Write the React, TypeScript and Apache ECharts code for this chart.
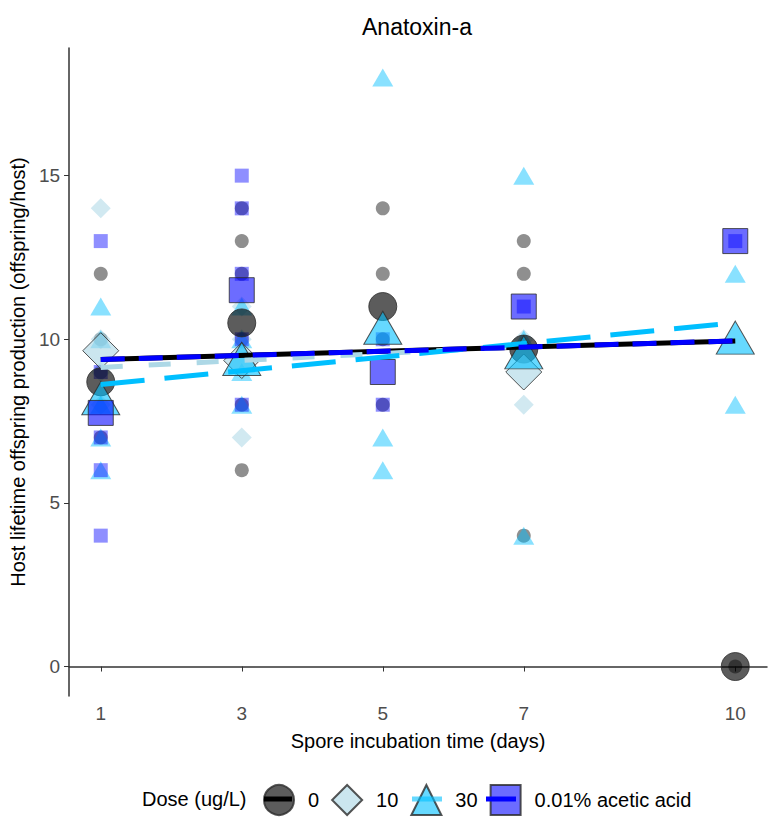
import React, { useEffect, useRef } from "react";
import * as echarts from "echarts";

const days = [1, 3, 5, 7, 10];
const yTicks = [0, 5, 10, 15];
const doseNames = ["0", "10", "30", "0.01% acetic acid"];

// raw observations [day, offspring]
const dose0Points = [[1,12],[1,10],[1,9],[1,7],[3,14],[3,13],[3,12],[3,10],[3,8],[3,6],[5,14],[5,12],[5,10],[5,8],[7,13],[7,12],[7,4],[10,0]];
const dose10Points = [[1,14],[1,10],[1,9],[1,8],[3,11],[3,10],[3,7],[7,10],[7,8]];
const dose30Points = [[1,11],[1,10],[1,8],[1,7],[1,6],[3,11],[3,10],[3,9],[3,8],[5,18],[5,7],[5,6],[7,15],[7,10],[7,4],[10,12],[10,8]];
const aceticPoints = [[1,13],[1,9],[1,7],[1,6],[1,4],[3,15],[3,14],[3,12],[3,10],[3,8],[5,10],[5,8],[7,11],[10,13]];

// group means
const dose0Means = [[1,8.7],[3,10.5],[5,11],[7,9.7],[10,0]];
const dose10Means = [[1,9.65],[3,9.35],[7,9]];
const dose30Means = [[1,8.2],[3,9.4],[5,10.35],[7,9.6],[10,10.05]];
const aceticMeans = [[1,7.75],[3,11.5],[5,9],[7,11],[10,13]];

// fitted linear trends (end points)
const dose0Fit = [[1,9.38],[10,9.95]];
const dose10Fit = [[1,9.14],[7,9.78]];
const dose30Fit = [[1,8.62],[10,10.5]];
const aceticFit = [[1,9.38],[10,9.95]];

const FONT = "'Liberation Sans', Arial, sans-serif";

export default function App() {
  const ref = useRef<HTMLDivElement>(null);
  useEffect(() => {
    document.body.style.margin = "0";
    const chart = echarts.init(ref.current!, undefined, { renderer: "svg" });
    const small = (name: string, data: number[][], symbol: string, size: any, color: string) => ({
      type: "scatter", name: name + " raw", data, symbol, symbolSize: size, silent: true,
      itemStyle: { color, borderWidth: 0 },
    });
    const mean = (name: string, data: number[][], symbol: string, size: any, color: string) => ({
      type: "scatter", name, data, symbol, symbolSize: size, silent: true,
      itemStyle: { color, borderColor: "#2b2b2b", borderWidth: 1 },
    });
    const fit = (name: string, data: number[][], color: string, type: any) => ({
      type: "line", name: name + " fit", data, showSymbol: false, silent: true,
      lineStyle: { color, width: 5, type, cap: "butt" },
    });
    const keyLine = (x1: number, x2: number, color: string) => ({
      type: "line", z: 100, silent: true,
      shape: { x1, y1: 799, x2, y2: 799 },
      style: { stroke: color, lineWidth: 5 },
    });
    chart.setOption({
      animation: false,
      textStyle: { fontFamily: FONT },
      grid: { left: 67, right: 4, top: 48, bottom: 125, containLabel: false },
      xAxis: {
        type: "value", min: 0.55, max: 10.45,
        name: "Spore incubation time (days)", nameLocation: "middle", nameGap: 35,
        nameTextStyle: { fontSize: 20, color: "#000", fontFamily: FONT },
        axisLine: { show: true, lineStyle: { color: "#333", width: 1.5 } },
        axisTick: { show: true, length: 5, customValues: days, lineStyle: { color: "#333" } },
        axisLabel: { customValues: days, fontSize: 19, color: "#4d4d4d", margin: 8, fontFamily: FONT },
        splitLine: { show: false },
      },
      yAxis: {
        type: "value", min: -0.9, max: 18.9,
        name: "Host lifetime offspring production (offspring/host)", nameLocation: "middle", nameGap: 38,
        nameTextStyle: { fontSize: 20, color: "#000", fontFamily: FONT },
        axisLine: { show: true, lineStyle: { color: "#333", width: 1.5 } },
        axisTick: { show: true, length: 5, customValues: yTicks, lineStyle: { color: "#333" } },
        axisLabel: { customValues: yTicks, fontSize: 19, color: "#4d4d4d", margin: 9, fontFamily: FONT },
        splitLine: { show: false },
      },
      legend: {
        data: [
          { name: doseNames[0], icon: "circle" },
          { name: doseNames[1], icon: "diamond" },
          { name: doseNames[2], icon: "triangle" },
          { name: doseNames[3], icon: "rect" },
        ],
        left: 263, top: 784, padding: 0, itemWidth: 30, itemHeight: 30, itemGap: 12,
        selectedMode: false,
        textStyle: { fontSize: 20, color: "#000", fontFamily: FONT, padding: [0, 0, 0, 9] },
      },
      graphic: [
        { type: "text", left: 142, top: 789, style: { text: "Dose (ug/L)", fontSize: 20, fill: "#000", fontFamily: FONT } },
        { type: "text", x: 417, y: 15, style: { text: "Anatoxin-a", fontSize: 23, fill: "#000", fontFamily: FONT, textAlign: "center" } },
        keyLine(264, 292, "#000"),
        keyLine(412, 442, "rgba(0,191,255,0.6)"),
        keyLine(486, 516, "#0000ff"),
      ],
      series: [
        small(doseNames[0], dose0Points, "circle", 14, "rgba(0,0,0,0.55)"),
        small(doseNames[1], dose10Points, "diamond", 20, "rgba(173,216,230,0.7)"),
        small(doseNames[2], dose30Points, "triangle", [21, 18], "rgba(0,191,255,0.58)"),
        small(doseNames[3], aceticPoints, "rect", 14, "rgba(0,0,255,0.55)"),
        fit(doseNames[0], dose0Fit, "#000", "solid"),
        fit(doseNames[1], dose10Fit, "#add8e6", [22, 26]),
        fit(doseNames[2], dose30Fit, "#00bfff", [44, 20]),
        fit(doseNames[3], aceticFit, "#0000ff", [24, 14]),
        mean(doseNames[0], dose0Means, "circle", 28, "rgba(0,0,0,0.8)"),
        mean(doseNames[1], dose10Means, "diamond", 36, "rgba(173,216,230,0.8)"),
        mean(doseNames[2], dose30Means, "triangle", [38, 33], "rgba(0,191,255,0.75)"),
        mean(doseNames[3], aceticMeans, "rect", 25, "rgba(0,0,255,0.72)"),
      ],
    });
    return () => chart.dispose();
  }, []);
  return <div ref={ref} style={{ width: 771, height: 821 }} />;
}
